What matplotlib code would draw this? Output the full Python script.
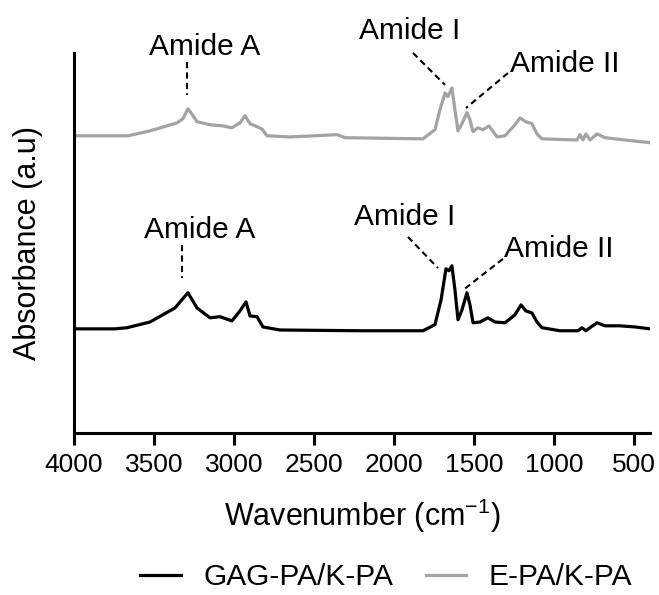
import matplotlib
matplotlib.use('Agg')
import matplotlib.pyplot as plt

plt.rcParams['font.family'] = ['Liberation Sans', 'DejaVu Sans']
plt.rcParams['mathtext.fontset'] = 'custom'
plt.rcParams['mathtext.rm'] = 'Liberation Sans'
plt.rcParams['mathtext.default'] = 'regular'

# GAG-PA/K-PA spectrum (wavenumber, absorbance above its own baseline)
gag_wn = [4000, 3744, 3669, 3525, 3369, 3288, 3231, 3150, 3088, 3013, 2963, 2925,
          2900, 2856, 2819, 2713, 2213, 1819, 1744, 1706, 1675, 1656, 1638, 1619,
          1600, 1575, 1544, 1525, 1506, 1463, 1413, 1369, 1306, 1244, 1206, 1175,
          1138, 1106, 1075, 963, 850, 825, 800, 775, 731, 681, 588, 494, 400]
gag_abs = [0, 0, 0.003, 0.018, 0.055, 0.095, 0.055, 0.029, 0.032, 0.021, 0.047, 0.071,
           0.034, 0.032, 0.005, -0.003, -0.005, -0.005, 0.011, 0.076, 0.158, 0.153, 0.166, 0.103,
           0.024, 0.050, 0.095, 0.063, 0.016, 0.018, 0.029, 0.018, 0.016, 0.037, 0.063, 0.047,
           0.042, 0.018, 0.003, -0.005, -0.005, 0.003, -0.005, 0.003, 0.016, 0.008, 0.008, 0.005, 0]

# E-PA/K-PA spectrum
e_wn = [4000, 3663, 3525, 3356, 3319, 3288, 3256, 3231, 3150, 3069, 3013, 2963,
        2931, 2900, 2856, 2825, 2794, 2650, 2356, 2306, 1819, 1744, 1713, 1681,
        1663, 1638, 1619, 1600, 1575, 1544, 1525, 1506, 1475, 1444, 1406, 1356,
        1306, 1244, 1213, 1175, 1138, 1106, 1075, 856, 838, 819, 800, 775, 731,
        681, 556, 400]
e_abs = [0, 0, 0.013, 0.034, 0.045, 0.071, 0.053, 0.037, 0.029, 0.026, 0.021, 0.034,
         0.053, 0.032, 0.024, 0.018, 0, -0.003, 0.003, -0.005, -0.008, 0.016, 0.068, 0.113,
         0.103, 0.126, 0.068, 0.013, 0.032, 0.061, 0.042, 0.011, 0.021, 0.016, 0.026, -0.003,
         0, 0.029, 0.047, 0.037, 0.032, 0.005, -0.008, -0.011, 0.003, -0.011, 0.005, -0.011, 0.005,
         -0.005, -0.011, -0.018]

labels = ['GAG-PA/K-PA', 'E-PA/K-PA']
xticks = [4000, 3500, 3000, 2500, 2000, 1500, 1000, 500]

gag_offset = 0.274
e_offset = 0.782
grey = '#a3a3a3'

fig = plt.figure(figsize=(6.59, 5.95), dpi=100)
ax = fig.add_axes([0.1123, 0.2723, 0.874, 0.6387])

ax.plot(gag_wn, [a + gag_offset for a in gag_abs], color='black', lw=2.3, label=labels[0])
ax.plot(e_wn, [a + e_offset for a in e_abs], color=grey, lw=2.3, label=labels[1])

ax.set_xlim(4000, 400)
ax.set_ylim(0, 1)
ax.set_xticks(xticks)
ax.tick_params(axis='x', labelsize=19, length=8.6, width=2.2, pad=6)
ax.set_yticks([])
ax.spines['top'].set_visible(False)
ax.spines['right'].set_visible(False)
ax.spines['left'].set_linewidth(2.2)
ax.spines['bottom'].set_linewidth(2.2)

ax.set_xlabel('Wavenumber (cm$^{-1}$)', fontsize=22, labelpad=14)
fig.text(28 / 659, 0.5915, 'Absorbance (a.u)', rotation=90, fontsize=22,
         ha='center', va='center')

# peak annotations
dash = dict(color='black', lw=1.5, ls=(0, (3, 2)), clip_on=False)
txt = dict(fontsize=21.5, ha='center', va='baseline', clip_on=False)

ax.text(3181, 0.995, 'Amide A', **txt)
ax.plot([3294, 3294], [0.976, 0.889], **dash)
ax.text(1900, 1.037, 'Amide I', **txt)
ax.plot([1881, 1681], [1.0, 0.916], **dash)
ax.text(931, 0.950, 'Amide II', **txt)
ax.plot([1288, 1550], [0.947, 0.855], **dash)

ax.text(3213, 0.513, 'Amide A', **txt)
ax.plot([3325, 3325], [0.495, 0.408], **dash)
ax.text(1931, 0.547, 'Amide I', **txt)
ax.plot([1913, 1725], [0.516, 0.434], **dash)
ax.text(969, 0.463, 'Amide II', **txt)
ax.plot([1319, 1575], [0.458, 0.374], **dash)

fig.legend(loc='center', bbox_to_anchor=(0.586, 0.03), ncol=2, frameon=False,
           fontsize=21.5, handlelength=1.35, handletextpad=0.75, columnspacing=1.1,
           borderpad=0.2)

fig.savefig('out.png', dpi=100)
